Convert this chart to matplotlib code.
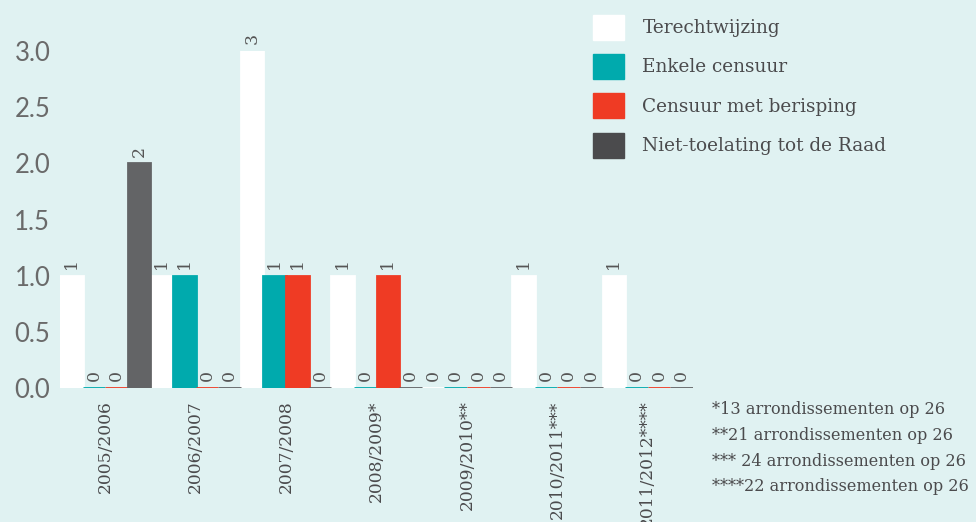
import matplotlib
matplotlib.use("Agg")
import matplotlib.pyplot as plt
from matplotlib.patches import Patch
import numpy as np

categories = ["2005/2006", "2006/2007", "2007/2008", "2008/2009*",
              "2009/2010**", "2010/2011***", "2011/2012****"]
series_names = ["Terechtwijzing", "Enkele censuur", "Censuur met berisping",
                "Niet-toelating tot de Raad"]
terechtwijzing = [1, 1, 3, 1, 0, 1, 1]
enkele_censuur = [0, 1, 1, 0, 0, 0, 0]
censuur_berisping = [0, 0, 1, 1, 0, 0, 0]
niet_toelating = [2, 0, 0, 0, 0, 0, 0]
footnotes = ["*13 arrondissementen op 26", "**21 arrondissementen op 26",
             "*** 24 arrondissementen op 26", "****22 arrondissementen op 26"]
yticks = [0.0, 0.5, 1.0, 1.5, 2.0, 2.5, 3.0]

series = [terechtwijzing, enkele_censuur, censuur_berisping, niet_toelating]
colors = ["#FFFFFF", "#00AAAD", "#EF3B24", "#636466"]
legend_colors = ["#FFFFFF", "#00AAAD", "#EF3B24", "#4B4B4D"]
bg = "#E0F2F2"
gray = "#555555"
serif = ["DejaVu Serif"]

W, H = 976, 522
fig = plt.figure(figsize=(W / 100, H / 100), dpi=100, facecolor=bg)
ax = fig.add_axes([60 / W, 1 - 388 / H, 633 / W, (388 - 51) / H])
ax.set_facecolor(bg)

n = len(series)
bw = 1.0 / n
x = np.arange(len(categories))
for i, (vals, c) in enumerate(zip(series, colors)):
    pos = x - 0.5 + bw * (i + 0.5)
    ax.bar(pos, vals, width=bw, color=c, edgecolor=c, linewidth=2.0)
    for p, v in zip(pos, vals):
        ax.text(p, v + 0.06, str(v), rotation=90, ha="center", va="bottom",
                fontsize=12.5, color=gray, family=serif)

ax.set_xlim(-0.5, len(categories) - 0.5)
ax.set_ylim(0, 3.0)
ax.set_yticks(yticks)
ax.set_yticklabels([f"{t:.1f}" for t in yticks], fontsize=18.5, color="#6A6A6A",
                   family=["Lato", "DejaVu Sans"])
ax.set_xticks(x)
ax.set_xticklabels(categories, rotation=90, fontsize=12.3, color="#4B4B4D", family=serif)
ax.tick_params(axis="both", length=0)
ax.tick_params(axis="y", pad=7)
ax.tick_params(axis="x", pad=9)
for s in ax.spines.values():
    s.set_visible(False)

handles = [Patch(facecolor=c, edgecolor=c) for c in legend_colors]
leg = fig.legend(handles, series_names, loc="upper left",
                 bbox_to_anchor=(576 / W, 1 + 2 / H), frameon=False,
                 prop={"family": serif, "size": 13.3}, labelcolor="#4B4B4D",
                 handlelength=1.7, handleheight=1.7, handletextpad=1.0,
                 labelspacing=0.78)

for k, t in enumerate(footnotes):
    fig.text(712 / W, 1 - (410 + 25.5 * k) / H, t, ha="left", va="center",
             fontsize=11.6, color="#4B4B4D", family=serif)

fig.savefig("out.png", dpi=100, facecolor=bg)
